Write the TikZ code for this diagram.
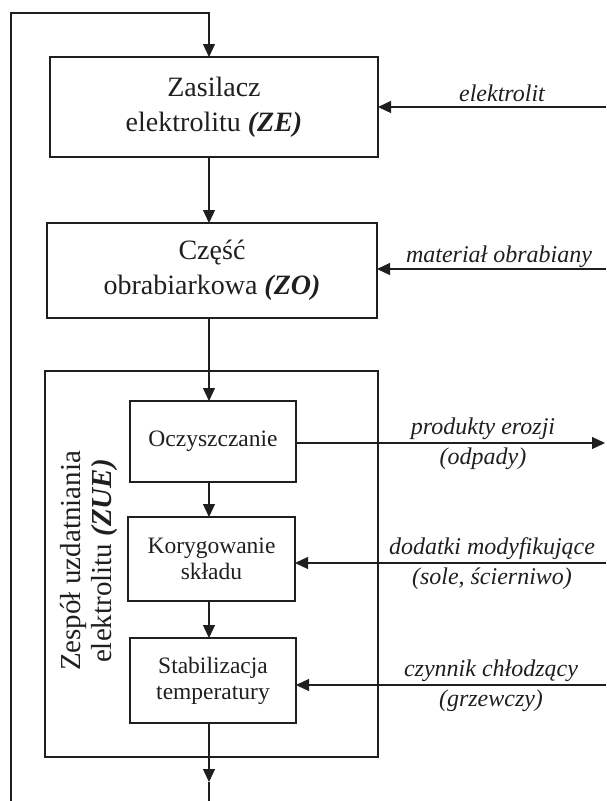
\documentclass[tikz,border=0pt]{standalone}
\usepackage{fontspec}
\setmainfont{Liberation Serif}
\usetikzlibrary{arrows.meta}
\definecolor{ink}{rgb}{0.12,0.12,0.12}
\begin{document}
\begin{tikzpicture}[x=1pt,y=-1pt,
  line/.style={draw=ink, line width=1.25pt},
  flow/.style={line, -{Triangle[length=13pt,width=12pt]}},
  box/.style={line, rectangle, inner sep=0pt, outer sep=0pt, text=ink, align=center},
  mainbox/.style={box, font=\fontsize{28}{35}\selectfont},
  stepbox/.style={box, font=\fontsize{23.5}{26}\selectfont},
  lab/.style={text=ink, inner sep=0pt, align=center, font=\fontsize{24}{30}\selectfont\itshape}
]
\useasboundingbox (0,0) rectangle (606,801);

% main flow column
\coordinate (col) at (209,0);

% units
\node[mainbox, minimum width=328pt, minimum height=100pt] (ZE) at (214,107)
  {Zasilacz\\ elektrolitu \textbf{\textit{(ZE)}}};
\node[mainbox, minimum width=330pt, minimum height=95pt] (ZO) at (212,270.5)
  {Część\\ obrabiarkowa \textbf{\textit{(ZO)}}};
\node[box, minimum width=333pt, minimum height=386pt] (ZUE) at (211.5,564) {};
\node[text=ink, align=center, rotate=90, inner sep=0pt,
  font=\fontsize{29}{31}\selectfont] (ZUElab) at (89,561)
  {Zespół uzdatniania\\ elektrolitu \textbf{\textit{(ZUE)}}};

\node[stepbox, minimum width=166pt, minimum height=81pt] (Ocz) at (213,441.5) {Oczyszczanie};
\node[stepbox, minimum width=167pt, minimum height=84pt] (Kor) at (211.5,559) {Korygowanie\\ składu};
\node[stepbox, minimum width=166pt, minimum height=85pt] (Stab) at (213,680.5) {Stabilizacja\\ temperatury};

% feedback loop on the left
\coordinate (loopB) at (11,801);
\coordinate (loopT) at (11,13);
\draw[flow] (loopB) -- (loopT) -- (loopT -| col) -- (ZE.north -| col);

% main chain
\draw[flow] (ZE.south -| col) -- (ZO.north -| col);
\draw[flow] (ZO.south -| col) -- (Ocz.north -| col);
\draw[flow] (Ocz.south -| col) -- (Kor.north -| col);
\draw[flow] (Kor.south -| col) -- (Stab.north -| col);
\coordinate (outTip) at (209,782);
\coordinate (outEnd) at (209,801);
\draw[flow] (Stab.south -| col) -- (outTip);
\draw[line] (outTip) -- (outEnd);

% external inputs and outputs
\coordinate (inE) at (606,107);
\coordinate (inO) at (606,269);
\coordinate (outP) at (605,443);
\coordinate (inK) at (606,563);
\coordinate (inS) at (606,685);
\draw[flow] (inE) -- (ZE.east |- inE);
\draw[flow] (inO) -- (ZO.east |- inO);
\draw[flow] (Ocz.east |- outP) -- (outP);
\draw[flow] (inK) -- (Kor.east |- inK);
\draw[flow] (inS) -- (Stab.east |- inS);

\node[lab, anchor=base] (lE) at (502,101) {elektrolit};
\node[lab, anchor=base] (lO) at (499,262) {materiał obrabiany};
\node[lab] (lP) at (483,444) {produkty erozji\\ (odpady)};
\node[lab] (lK) at (492,564) {dodatki modyfikujące\\ (sole, ścierniwo)};
\node[lab] (lS) at (491,686) {czynnik chłodzący\\ (grzewczy)};
\end{tikzpicture}
\end{document}
